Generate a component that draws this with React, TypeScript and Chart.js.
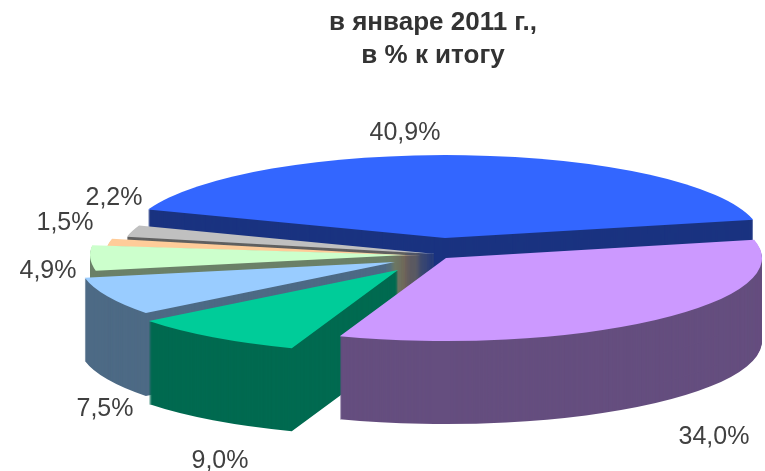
import React, { useEffect, useRef } from "react";
import { Chart, registerables } from "chart.js";

Chart.register(...registerables);

const categories = ["Сегмент 1", "Сегмент 2", "Сегмент 3", "Сегмент 4", "Сегмент 5", "Сегмент 6", "Сегмент 7"];
const shares = [40.9, 34.0, 9.0, 7.5, 4.9, 1.5, 2.2];
const titleLines = ["в январе 2011 г.,", "в % к итогу"];

const topColors = ["#3366ff", "#cc99ff", "#00cc99", "#99ccff", "#ccffcc", "#ffcc99", "#c0c0c0"];
const wallColors = ["#1a3380", "#654e7f", "#006a50", "#4d6a85", "#6b8068", "#87694f", "#606060"];

const pie3d = {
  id: "pie3d",
  beforeDatasetsDraw(chart: any, _args: any, opts: any) {
    const { ctx } = chart;
    const arcs: any[] = chart.getDatasetMeta(0).data;
    const paint = (arc: any, i: number, color: string, lift: number) => {
      const k = opts.rx / arc.outerRadius;
      const q = opts.ry / arc.outerRadius;
      const saved = arc.options;
      arc.options = { ...saved, backgroundColor: color, borderColor: color, borderWidth: 0 };
      ctx.save();
      ctx.translate(opts.cx + opts.shifts[i][0], opts.cy + opts.shifts[i][1] + lift);
      ctx.scale(k, q);
      ctx.translate(-arc.x, -arc.y);
      arc.draw(ctx);
      ctx.restore();
      arc.options = saved;
    };
    for (const i of opts.order) {
      for (let d = opts.depth; d > 0; d--) paint(arcs[i], i, wallColors[i], d);
      paint(arcs[i], i, topColors[i], 0);
    }
    ctx.save();
    ctx.fillStyle = opts.labelColor;
    ctx.font = opts.labelFont;
    ctx.textAlign = "center";
    ctx.textBaseline = "middle";
    shares.forEach((v, i) => {
      const [x, y] = opts.labelAt[i];
      ctx.fillText(v.toFixed(1).replace(".", ",") + "%", x, y);
    });
    ctx.restore();
    return false;
  },
};

export default function App() {
  const ref = useRef<HTMLCanvasElement>(null);
  useEffect(() => {
    const chart = new Chart(ref.current!, {
      type: "pie",
      data: {
        labels: categories,
        datasets: [{ data: shares, backgroundColor: topColors, borderWidth: 0 }],
      },
      plugins: [pie3d],
      options: {
        responsive: false,
        animation: false,
        rotation: -70,
        layout: { padding: { left: 101 } },
        plugins: {
          legend: { display: false },
          tooltip: { enabled: false },
          title: {
            display: true,
            text: titleLines,
            color: "#333333",
            font: { family: "'Liberation Sans', Arial, sans-serif", size: 26, weight: "bold", lineHeight: 1.27 },
            padding: { top: 6, bottom: 10 },
          },
          pie3d: {
            cx: 445,
            cy: 250,
            rx: 316,
            ry: 83,
            depth: 83,
            order: [0, 6, 5, 4, 3, 2, 1],
            shifts: [[0, -12], [1, 8], [-47, 20], [-50, 12], [-39, 5], [-24, 6], [-9, 4]],
            labelColor: "#404040",
            labelFont: "25px 'Liberation Sans', Arial, sans-serif",
            labelAt: [[405, 133.5], [714, 437.5], [220, 461.5], [105, 409.5], [48, 271], [65, 223], [114, 198.5]],
          },
        },
      } as any,
    });
    return () => chart.destroy();
  }, []);
  return (
    <canvas
      ref={ref}
      width={765}
      height={471}
      style={{ position: "fixed", left: 0, top: 0, display: "block" }}
    />
  );
}
